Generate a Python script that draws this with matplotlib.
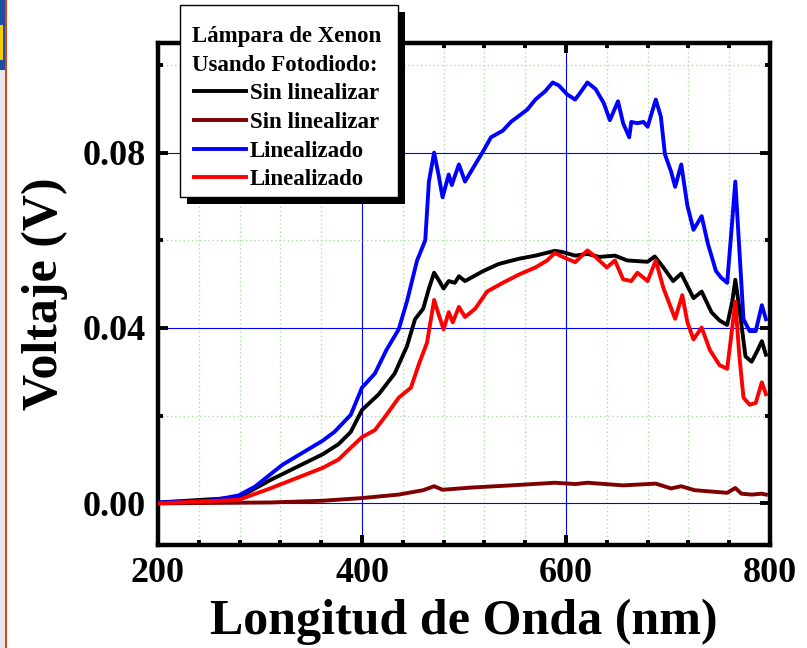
import matplotlib
matplotlib.use("Agg")
import matplotlib.pyplot as plt
from matplotlib.patches import Rectangle
from matplotlib.ticker import MultipleLocator, FormatStrFormatter

# Wavelength (nm) and voltage (V) for each measured spectrum
wl_black = [200, 279, 310, 361.5, 377, 389, 400, 416.5, 432, 444, 452, 460, 465.6, 470.7, 475, 480,
            485, 491, 495, 501, 519, 534, 554, 570, 589, 597, 609, 621, 632.5, 648, 660, 680, 687,
            695.5, 705, 713, 725, 733, 742.6, 750.6, 758, 763, 766, 770, 776, 782, 788, 792, 796]
v_black = [0.0002, 0.0013, 0.0053, 0.0112, 0.0135, 0.0163, 0.0213, 0.0249, 0.0296, 0.0358, 0.042,
           0.0444, 0.049, 0.0526, 0.051, 0.049, 0.0507, 0.0503, 0.0518, 0.0507, 0.053, 0.0546, 0.0558,
           0.0565, 0.0576, 0.0573, 0.0565, 0.0569, 0.0562, 0.0565, 0.0554, 0.0551, 0.0563, 0.0538,
           0.0507, 0.0524, 0.0468, 0.0483, 0.0436, 0.0417, 0.0407, 0.046, 0.051, 0.0444, 0.0335,
           0.0323, 0.035, 0.037, 0.0339]

wl_darkred = [200, 310, 361.5, 400, 436, 460, 470.7, 479, 507, 546, 589, 609, 621, 656, 688, 703,
              713, 726, 758, 766, 772, 782, 792, 796]
v_darkred = [0.0, 0.0002, 0.0006, 0.0012, 0.002, 0.003, 0.0039, 0.0031, 0.0036, 0.0041, 0.0047,
             0.0044, 0.0047, 0.0041, 0.0045, 0.0034, 0.0039, 0.003, 0.0024, 0.0035, 0.0022, 0.002,
             0.0022, 0.002]

wl_blue = [200, 251, 279, 295, 322, 361.5, 373, 389, 400, 412.6, 424, 436, 444, 454, 462, 465.6,
           470.7, 475, 479, 485, 488, 495, 501, 511, 519, 526.5, 538, 546, 562, 570, 579.6, 587,
           593, 601, 609, 615, 621, 629, 637, 643, 651, 656, 662, 664, 670, 676, 680, 688, 693,
           697, 703, 707, 713, 719, 725, 733, 739, 747, 752, 758, 762, 766, 770, 774, 780, 786,
           792, 796]
v_blue = [0.0002, 0.0006, 0.0018, 0.0038, 0.0088, 0.0143, 0.0163, 0.0202, 0.0264, 0.0296, 0.035,
          0.0397, 0.046, 0.0554, 0.060, 0.0734, 0.080, 0.075, 0.0698, 0.075, 0.0726, 0.0773, 0.0734,
          0.0773, 0.0804, 0.0835, 0.085, 0.087, 0.0898, 0.0921, 0.094, 0.096, 0.0953, 0.0933,
          0.0921, 0.094, 0.096, 0.0945, 0.0913, 0.0874, 0.0917, 0.0867, 0.0835, 0.087, 0.0867,
          0.087, 0.0859, 0.0921, 0.0882, 0.0796, 0.0757, 0.0722, 0.0773, 0.0679, 0.0624, 0.0655,
          0.0593, 0.053, 0.0515, 0.0503, 0.0616, 0.0734, 0.0577, 0.042, 0.0393, 0.0393, 0.0452,
          0.042]

wl_red = [200, 279, 310, 361.5, 377, 389, 400, 412.6, 424, 436, 448, 456, 463.7, 470.7, 475, 480,
          485, 489, 495, 501, 511, 522.6, 538, 554, 570, 581.5, 589, 597, 609, 621, 629, 640, 648,
          656, 664, 670, 680, 688, 695.5, 707, 714, 719, 725, 733, 741, 750.6, 758, 762, 766, 770,
          774, 780, 786, 792, 796]
v_red = [0.0, 0.0008, 0.0034, 0.0081, 0.010, 0.0127, 0.0151, 0.0167, 0.0202, 0.0241, 0.0264,
         0.0319, 0.0366, 0.0464, 0.0432, 0.0397, 0.0436, 0.0413, 0.0448, 0.0425, 0.0444, 0.0483,
         0.0503, 0.0522, 0.0538, 0.0554, 0.0571, 0.0562, 0.055, 0.0577, 0.0562, 0.0538, 0.0554,
         0.0511, 0.0507, 0.0526, 0.0507, 0.0554, 0.0491, 0.0421, 0.0475, 0.0413, 0.0374, 0.0401,
         0.035, 0.0315, 0.0307, 0.0382, 0.046, 0.0335, 0.0241, 0.0225, 0.0229, 0.0276, 0.0249]

series_labels = ["Sin linealizar", "Sin linealizar", "Linealizado", "Linealizado"]
series_colors = ["#000000", "#800000", "#0000ff", "#ff0000"]
legend_title = "Lámpara de Xenon\nUsando Fotodiodo:"
x_label = "Longitud de Onda (nm)"
y_label = "Voltaje (V)"

plt.rcParams["font.family"] = ["Liberation Serif", "DejaVu Serif"]
plt.rcParams["font.weight"] = "bold"

W, H = 807, 648
fig = plt.figure(figsize=(W / 100, H / 100), dpi=100)
ax = fig.add_axes([158 / W, 1 - 545 / H, (770 - 158) / W, (545 - 43) / H])

series = [(wl_black, v_black), (wl_darkred, v_darkred), (wl_blue, v_blue), (wl_red, v_red)]
for (x, y), lab, col in zip(series, series_labels, series_colors):
    ax.plot(x, y, color=col, lw=2.8, label=lab, solid_joinstyle="round", zorder=3)

ax.set_xlim(200, 800)
ax.set_ylim(-0.0095, 0.105)
ax.xaxis.set_major_locator(MultipleLocator(200))
ax.xaxis.set_minor_locator(MultipleLocator(40))
ax.yaxis.set_major_locator(MultipleLocator(0.04))
ax.yaxis.set_minor_locator(MultipleLocator(0.02))
ax.yaxis.set_major_formatter(FormatStrFormatter("%.2f"))

ax.grid(which="major", color="#0000ff", lw=0.8, ls="-", zorder=1)
ax.grid(which="minor", color="#a8e0a0", lw=1.0, ls=(0, (1, 2)), zorder=1)
ax.set_axisbelow(True)

for s in ax.spines.values():
    s.set_linewidth(3.2)
ax.tick_params(which="both", direction="in", top=True, right=True, width=2.8)
ax.tick_params(which="major", length=7.5, labelsize=26, pad=9)
ax.tick_params(which="minor", length=3.5)
for lbl in ax.get_xticklabels() + ax.get_yticklabels():
    lbl.set_fontweight("bold")

ax.set_xlabel(x_label, fontsize=36, fontweight="bold", labelpad=6)
ax.set_ylabel(y_label, fontsize=36, fontweight="bold", labelpad=10)

# legend box: white panel with a solid black drop shadow, legend text on top
box_x, box_y, box_w, box_h = 180, 5, 218, 192   # pixels from top-left
fig.add_artist(Rectangle(((box_x + 7) / W, 1 - (box_y + box_h + 7) / H), box_w / W, box_h / H,
                         transform=fig.transFigure, facecolor="black", edgecolor="none",
                         zorder=8))
fig.add_artist(Rectangle((box_x / W, 1 - (box_y + box_h) / H), box_w / W, box_h / H,
                         transform=fig.transFigure, facecolor="white", edgecolor="black",
                         lw=1.0, zorder=9))

handles, labels = ax.get_legend_handles_labels()
leg = fig.legend(handles, labels, title=legend_title, loc="upper left",
                 bbox_to_anchor=(178 / W, 1 - 12 / H), frameon=False,
                 fontsize=16.5, title_fontsize=16.5,
                 handlelength=2.3, handletextpad=0.15, labelspacing=0.33,
                 borderpad=0.6, borderaxespad=0.0)
leg.get_title().set_fontweight("bold")
leg.get_title().set_linespacing(1.5)
for t in leg.get_texts():
    t.set_fontweight("bold")
leg.set_zorder(10)

# thin window border strip on the far left edge
fig.add_artist(Rectangle((0, 0), 5 / W, 1, transform=fig.transFigure,
                         facecolor="#e8e8ea", edgecolor="none", zorder=1))
fig.add_artist(Rectangle((0, 1 - 70 / H), 5 / W, 70 / H, transform=fig.transFigure,
                         facecolor="#1f4fa0", edgecolor="none", zorder=1))
fig.add_artist(Rectangle((0, 1 - 60 / H), 3 / W, 35 / H, transform=fig.transFigure,
                         facecolor="#f0d000", edgecolor="none", zorder=1))
fig.add_artist(Rectangle((5 / W, 0), 2 / W, 1, transform=fig.transFigure,
                         facecolor="#d9441a", edgecolor="none", zorder=1))

fig.savefig("out.png", dpi=100)
